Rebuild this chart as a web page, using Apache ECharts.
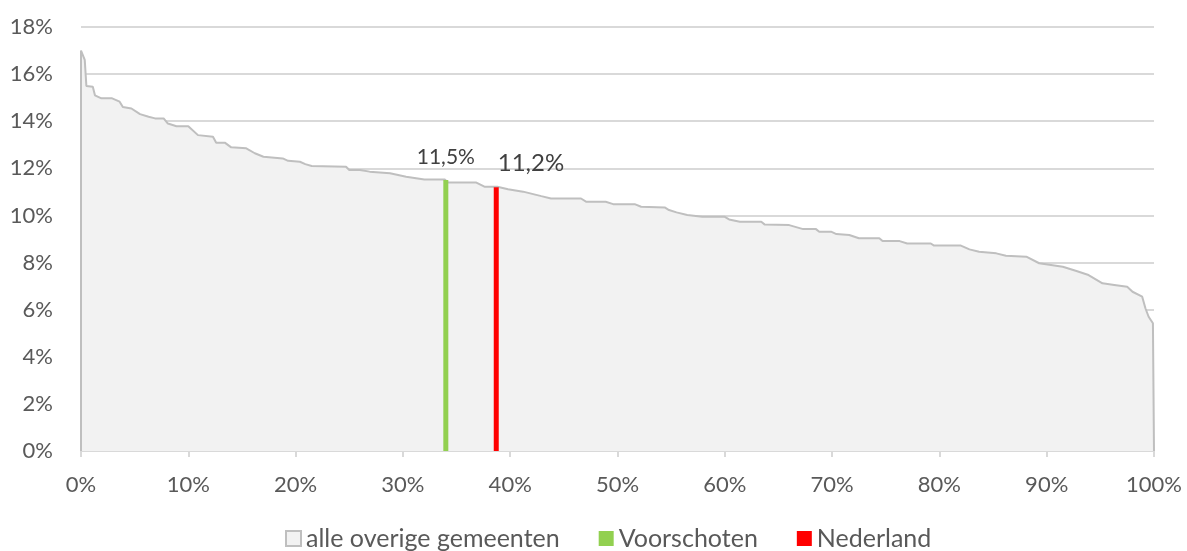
<!DOCTYPE html>
<html>
<head>
<meta charset="utf-8">
<script src="https://cdn.jsdelivr.net/npm/echarts@6/dist/echarts.min.js"></script>
<style>
html,body{margin:0;padding:0;background:#fff;}
#chart{width:1187px;height:551px;}
</style>
</head>
<body>
<div id="chart"></div>
<script>
// Curve of all other municipalities: [percentile %, value %]
const curveData = [
  [0,0],[0,17.0],[0.15,16.95],[0.35,16.6],[0.5,15.5],[1.1,15.46],[1.3,15.1],[1.9,14.97],[2.9,14.97],
  [3.6,14.83],[3.9,14.6],[4.7,14.54],[5.5,14.3],[6.3,14.19],[6.9,14.12],[7.7,14.12],[8.1,13.9],
  [8.9,13.79],[10.0,13.79],[10.9,13.41],[12.3,13.34],[12.6,13.09],[13.4,13.09],[14.0,12.89],
  [15.4,12.85],[16.2,12.64],[17.0,12.49],[18.8,12.42],[19.3,12.32],[20.4,12.28],[20.9,12.18],
  [21.5,12.10],[24.7,12.07],[25.0,11.93],[26.0,11.93],[26.9,11.86],[28.8,11.79],[30.3,11.64],
  [32.0,11.53],[33.9,11.53],[34.2,11.40],[36.8,11.40],[37.6,11.22],[38.8,11.22],[39.8,11.11],
  [41.2,11.01],[42.9,10.82],[43.8,10.72],[46.6,10.72],[47.1,10.58],[48.9,10.58],[49.6,10.48],
  [51.6,10.48],[52.2,10.37],[54.4,10.34],[54.8,10.23],[55.5,10.13],[56.5,10.02],[57.9,9.94],
  [60.0,9.94],[60.4,9.83],[61.4,9.73],[63.4,9.73],[63.7,9.62],[66.0,9.59],[67.3,9.42],[68.5,9.42],
  [68.8,9.31],[69.9,9.31],[70.4,9.21],[71.6,9.17],[72.5,9.03],[74.4,9.03],[74.7,8.91],[76.3,8.91],
  [77.0,8.81],[79.2,8.81],[79.5,8.72],[82.0,8.72],[82.8,8.56],[83.7,8.46],[85.3,8.39],[86.2,8.29],
  [88.1,8.25],[89.3,7.97],[91.5,7.82],[92.7,7.65],[93.9,7.47],[95.2,7.12],[96.3,7.05],[97.5,6.97],
  [98.0,6.76],[98.9,6.55],[99.2,6.06],[99.5,5.70],[99.9,5.42],[100,5.42],[100,0]
];
const voorschoten = [[34.0, 11.5]];
const nederland = [[38.7, 11.2]];
const seriesNames = ['alle overige gemeenten', 'Voorschoten', 'Nederland'];

const FONT = 'Lato';
const fmtPct = v => v.toFixed(1).replace('.', ',') + '%';

const chart = echarts.init(document.getElementById('chart'), null, {renderer: 'canvas'});
chart.setOption({
  animation: false,
  backgroundColor: '#ffffff',
  textStyle: {fontFamily: FONT},
  grid: {left: 81, right: 33, top: 27, bottom: 100, containLabel: false},
  xAxis: {
    type: 'value', min: 0, max: 100, interval: 10,
    axisLine: {show: true, lineStyle: {color: '#d9d9d9', width: 2}},
    axisTick: {show: true, length: 6, lineStyle: {color: '#d9d9d9', width: 2}},
    splitLine: {show: false},
    axisLabel: {formatter: v => v + '%', color: '#595959', fontSize: 22, fontFamily: FONT, margin: 23}
  },
  yAxis: {
    type: 'value', min: 0, max: 18, interval: 2,
    axisLine: {show: false}, axisTick: {show: false},
    splitLine: {show: true, lineStyle: {color: '#d9d9d9', width: 2}},
    axisLabel: {formatter: v => v + '%', color: '#595959', fontSize: 22, fontFamily: FONT, margin: 28}
  },
  legend: {
    top: 521, left: 280, itemWidth: 15, itemHeight: 15, itemGap: 39,
    textStyle: {color: '#595959', fontSize: 25, fontFamily: FONT},
    data: [
      {name: seriesNames[0], icon: 'rect', itemStyle: {color: '#f2f2f2', borderColor: '#bfbfbf', borderWidth: 2}},
      {name: seriesNames[1], icon: 'rect'},
      {name: seriesNames[2], icon: 'rect'}
    ]
  },
  series: [
    {
      name: seriesNames[0], type: 'line', data: curveData, showSymbol: false, symbol: 'none',
      lineStyle: {color: '#bfbfbf', width: 2}, itemStyle: {color: '#f2f2f2'},
      areaStyle: {color: '#f2f2f2', opacity: 1}, z: 2
    },
    {
      name: seriesNames[1], type: 'bar', data: voorschoten, barWidth: 5, barGap: '-100%',
      itemStyle: {color: '#92d050'}, z: 3,
      label: {show: true, position: [2.5, -23], align: 'center', verticalAlign: 'middle',
        formatter: p => fmtPct(p.value[1]), color: '#404040', fontSize: 21, fontFamily: FONT}
    },
    {
      name: seriesNames[2], type: 'bar', data: nederland, barWidth: 5, barGap: '-100%',
      itemStyle: {color: '#ff0000'}, z: 3,
      label: {show: true, position: [4, -24], align: 'left', verticalAlign: 'middle',
        formatter: p => fmtPct(p.value[1]), color: '#404040', fontSize: 24, fontFamily: FONT}
    }
  ]
});
</script>
</body>
</html>
